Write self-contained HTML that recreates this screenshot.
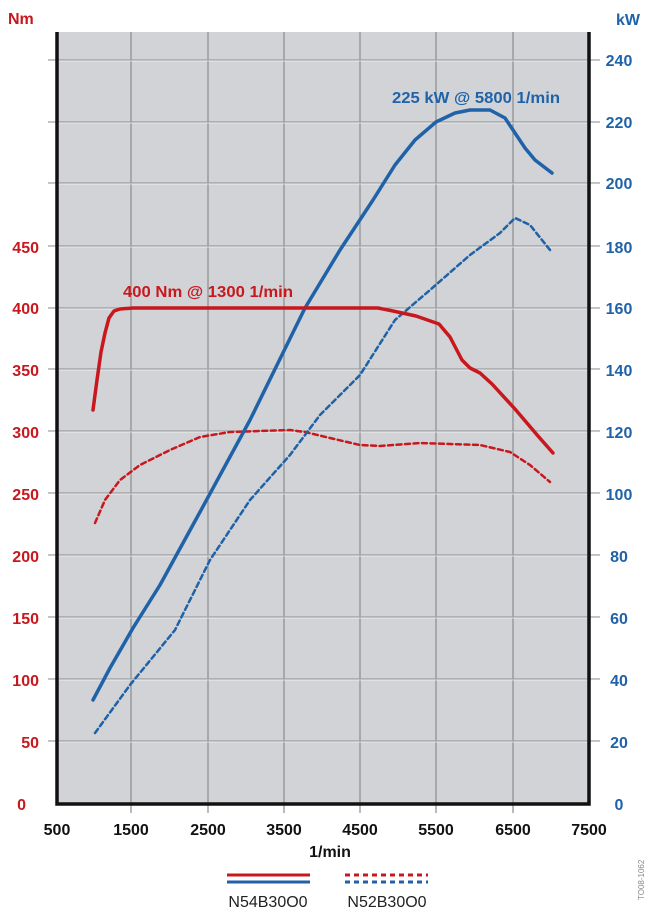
<!DOCTYPE html>
<html><head><meta charset="utf-8"><style>
html,body{margin:0;padding:0;background:#fff;}
svg{display:block;font-family:"Liberation Sans",sans-serif;}
</style></head><body>
<svg width="650" height="922" viewBox="0 0 650 922" xmlns="http://www.w3.org/2000/svg">
<rect x="57" y="32" width="532" height="772" fill="#d1d3d6"/>
<g stroke="#8a8c8e" stroke-width="1.2">
<line x1="131" y1="32" x2="131" y2="813"/><line x1="208" y1="32" x2="208" y2="813"/>
<line x1="284" y1="32" x2="284" y2="813"/><line x1="360" y1="32" x2="360" y2="813"/>
<line x1="436" y1="32" x2="436" y2="813"/><line x1="513" y1="32" x2="513" y2="813"/>
</g>
<g stroke="#9a9c9e" stroke-width="1.2">
<line x1="48" y1="60" x2="600" y2="60"/><line x1="48" y1="122" x2="600" y2="122"/>
<line x1="48" y1="183" x2="600" y2="183"/><line x1="48" y1="246" x2="600" y2="246"/>
<line x1="48" y1="308" x2="600" y2="308"/><line x1="48" y1="369" x2="600" y2="369"/>
<line x1="48" y1="431" x2="600" y2="431"/><line x1="48" y1="493" x2="600" y2="493"/>
<line x1="48" y1="555" x2="600" y2="555"/><line x1="48" y1="617" x2="600" y2="617"/>
<line x1="48" y1="679" x2="600" y2="679"/><line x1="48" y1="741" x2="600" y2="741"/>
</g>
<g stroke="#fff" stroke-width="1" opacity="0.6">
<line x1="48" y1="61" x2="600" y2="61"/><line x1="48" y1="123" x2="600" y2="123"/><line x1="48" y1="184" x2="600" y2="184"/><line x1="48" y1="247" x2="600" y2="247"/><line x1="48" y1="309" x2="600" y2="309"/><line x1="48" y1="370" x2="600" y2="370"/><line x1="48" y1="432" x2="600" y2="432"/><line x1="48" y1="494" x2="600" y2="494"/><line x1="48" y1="556" x2="600" y2="556"/><line x1="48" y1="618" x2="600" y2="618"/><line x1="48" y1="680" x2="600" y2="680"/><line x1="48" y1="742" x2="600" y2="742"/>
</g>
<polyline points="57,32 57,804 589,804 589,32" fill="none" stroke="#111" stroke-width="3.5"/>
<g fill="none" stroke-linejoin="round" stroke-linecap="round">
<polyline stroke="#c8181e" stroke-width="2.5" stroke-dasharray="5,3.5" points="95,523 105,500 120,480 140,465 170,450 200,437 230,432 290,430 305,432 330,438 360,445 380,446 420,443 480,445 510,452 530,465 550,482"/>
<polyline stroke="#1f62a8" stroke-width="2.5" stroke-dasharray="5,3.5" points="95,733 130,685 175,630 210,560 250,500 290,455 320,415 360,375 395,320 430,290 470,255 500,233 515,218 530,225 550,250"/>
<polyline stroke="#1f62a8" stroke-width="3.5" points="93,700 110,668 133,628 160,585 200,512 250,420 305,308 340,250 373,200 395,165 415,140 436,122 455,113 470,110 490,110 505,118 515,133 525,148 535,160 552,173"/>
<polyline stroke="#c8181e" stroke-width="3.5" points="93,410 97,380 101,352 105,333 109,318 114,311 120,309 133,308 378,308 393,311 416,316 439,324 450,337 462,360 470,368 480,373 492,384 515,409 538,436 553,453"/>
</g>
<g font-weight="bold" font-size="16">
<text x="123" y="297" fill="#c8181e" textLength="170" lengthAdjust="spacingAndGlyphs">400 Nm @ 1300 1/min</text>
<text x="392" y="103" fill="#1f62a8" textLength="168" lengthAdjust="spacingAndGlyphs">225 kW @ 5800 1/min</text>
<text x="8" y="24" fill="#c8181e">Nm</text>
<text x="616" y="25" fill="#1f62a8">kW</text>
<g fill="#c8181e" text-anchor="end">
<text x="39" y="253">450</text><text x="39" y="314">400</text><text x="39" y="376">350</text>
<text x="39" y="438">300</text><text x="39" y="500">250</text><text x="39" y="562">200</text>
<text x="39" y="624">150</text><text x="39" y="686">100</text><text x="39" y="748">50</text><text x="26" y="810">0</text>
</g>
<g fill="#1f62a8" text-anchor="middle">
<text x="619" y="66">240</text><text x="619" y="128">220</text><text x="619" y="189">200</text>
<text x="619" y="253">180</text><text x="619" y="314">160</text><text x="619" y="376">140</text>
<text x="619" y="438">120</text><text x="619" y="500">100</text><text x="619" y="562">80</text>
<text x="619" y="624">60</text><text x="619" y="686">40</text><text x="619" y="748">20</text><text x="619" y="810">0</text>
</g>
<g fill="#111" text-anchor="middle">
<text x="57" y="835">500</text><text x="131" y="835">1500</text><text x="208" y="835">2500</text>
<text x="284" y="835">3500</text><text x="360" y="835">4500</text><text x="436" y="835">5500</text>
<text x="513" y="835">6500</text><text x="589" y="835">7500</text>
<text x="330" y="857">1/min</text>
</g>
</g>
<line x1="227" y1="875" x2="310" y2="875" stroke="#c8181e" stroke-width="3"/>
<line x1="227" y1="882" x2="310" y2="882" stroke="#1f62a8" stroke-width="3"/>
<line x1="345" y1="875" x2="428" y2="875" stroke="#c8181e" stroke-width="3" stroke-dasharray="5,4"/>
<line x1="345" y1="882" x2="428" y2="882" stroke="#1f62a8" stroke-width="3" stroke-dasharray="5,4"/>
<text x="268" y="907" font-size="16" text-anchor="middle" fill="#222">N54B30O0</text>
<text x="387" y="907" font-size="16" text-anchor="middle" fill="#222">N52B30O0</text>
<text transform="translate(644,900) rotate(-90)" font-size="8" fill="#888">TO08-1062</text>
</svg>
</body></html>
